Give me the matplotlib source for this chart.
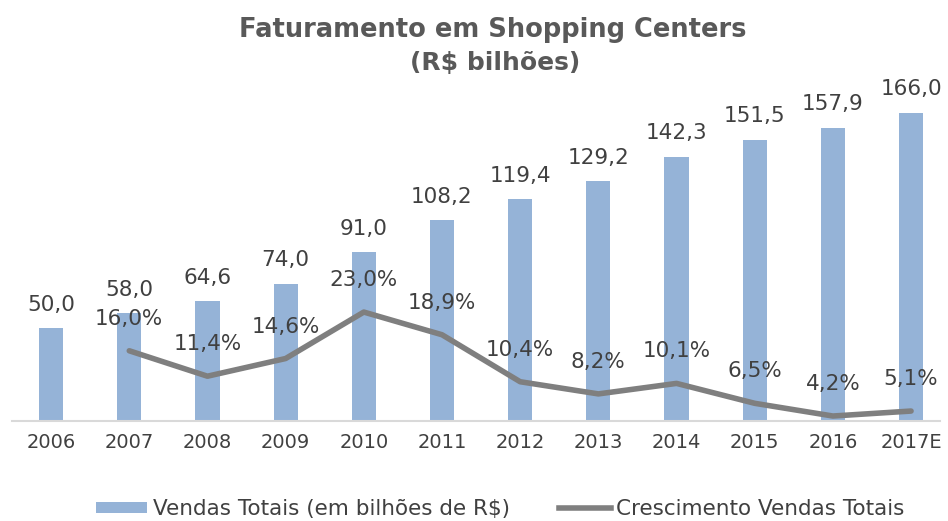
import numpy as np
import matplotlib.pyplot as plt
from matplotlib.patches import Patch
from matplotlib.lines import Line2D

anos = ['2006', '2007', '2008', '2009', '2010', '2011', '2012', '2013',
        '2014', '2015', '2016', '2017E']
vendas = [50.0, 58.0, 64.6, 74.0, 91.0, 108.2, 119.4, 129.2, 142.3, 151.5, 157.9, 166.0]
crescimento = [16.0, 11.4, 14.6, 23.0, 18.9, 10.4, 8.2, 10.1, 6.5, 4.2, 5.1]

cor_barra = '#95B3D7'
cor_linha = '#7F7F7F'
cor_texto = '#404040'

plt.rcParams['font.family'] = ['DejaVu Sans']

fig = plt.figure(figsize=(9.48, 5.21), dpi=100)
# axes box in pixels: x 12..940, baseline y=421, top y=87
ax = fig.add_axes([12/948, 1-421/521, 928/948, (421-87)/521])
x = np.arange(len(anos))
ax.bar(x, vendas, width=0.31, color=cor_barra, zorder=2)
ax.set_xlim(-0.5, 11.37)
ax.set_ylim(0, 180)
for i, v in enumerate(vendas):
    ax.annotate(f'{v:.1f}'.replace('.', ','), (i, v), xytext=(0, 17),
                textcoords='offset points', ha='center', va='center',
                fontsize=15.5, color=cor_texto)

for s in ['top', 'right', 'left']:
    ax.spines[s].set_visible(False)
ax.spines['bottom'].set_color('#D9D9D9')
ax.spines['bottom'].set_linewidth(1.5)
ax.set_yticks([])
ax.set_xticks(x)
ax.set_xticklabels(anos, fontsize=14, color=cor_texto)
ax.tick_params(axis='x', length=0, pad=9)

ax2 = ax.twinx()
ax2.set_ylim(3.3, 63.7)
ax2.plot(x[1:], crescimento, color=cor_linha, linewidth=4, solid_capstyle='round',
         solid_joinstyle='round', zorder=3)
for i, c in zip(x[1:], crescimento):
    ax2.annotate(f'{c:.1f}%'.replace('.', ','), (i, c), xytext=(0, 23),
                 textcoords='offset points', ha='center', va='center',
                 fontsize=15.5, color=cor_texto)
ax2.axis('off')

fig.text(493/948, 1-30/521, 'Faturamento em Shopping Centers', ha='center', va='center',
         fontsize=18.5, fontweight='bold', color='#595959')
fig.text(495/948, 1-63/521, '(R$ bilhões)', ha='center', va='center',
         fontsize=18, fontweight='bold', color='#595959')

handles = [Patch(facecolor=cor_barra, label='Vendas Totais (em bilhões de R$)'),
           Line2D([0], [0], color=cor_linha, linewidth=4, label='Crescimento Vendas Totais')]
fig.legend(handles=handles, loc='center', bbox_to_anchor=(500/948, 1-509/521), ncol=2,
           frameon=False, fontsize=15.5, labelcolor=cor_texto, handlelength=2.4,
           handleheight=0.45, handletextpad=0.25, columnspacing=2.3)

fig.savefig('out.png', dpi=100)
